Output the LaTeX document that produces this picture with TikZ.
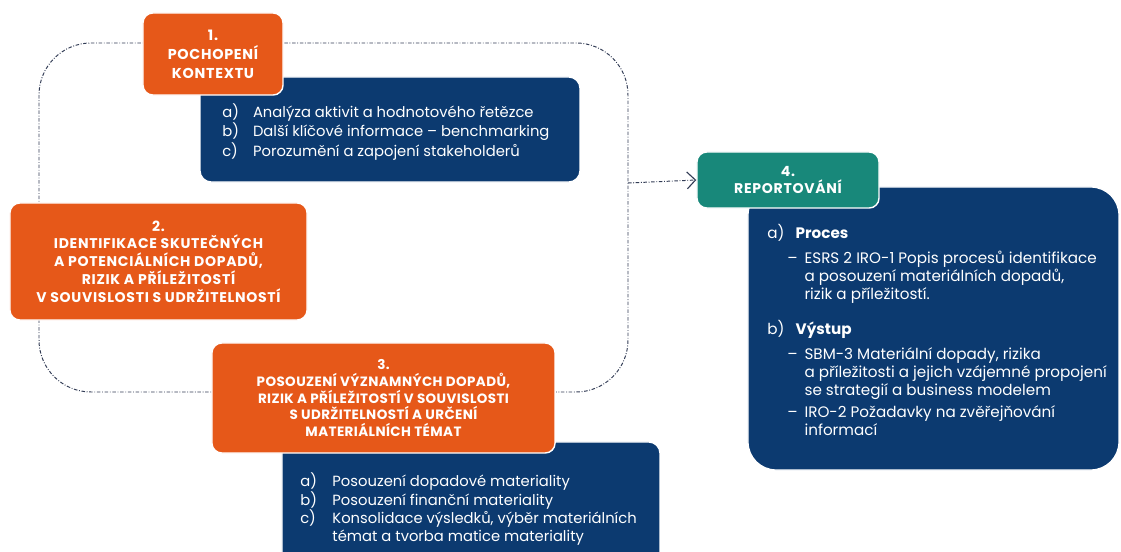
\documentclass[tikz,border=0pt]{standalone}
\usepackage{fontspec}
\setmainfont{Poppins}
\usetikzlibrary{arrows.meta}
\definecolor{oranz}{RGB}{230,88,25}
\definecolor{modra}{RGB}{12,58,112}
\definecolor{tyrkys}{RGB}{24,136,122}
\definecolor{tecky}{RGB}{50,60,85}

\begin{document}
\begin{tikzpicture}
      [x=.025cm,y=-.025cm
      ,hlava/.style={fill=oranz,draw=white,line width=1pt,rounded corners=7pt,text=white,font=\fontsize{10}{12.6}\selectfont\bfseries\addfontfeatures{LetterSpace=5},align=center,inner sep=0pt}
      ,modrybox/.style={fill=modra,draw=white,line width=1pt,rounded corners=8pt}
      ,seznam/.style={text=white,font=\fontsize{10.5}{13.5}\selectfont,anchor=north west,inner sep=0pt}
      ,smycka/.style={color=tecky,line width=.7pt,dash pattern=on 2.5pt off 1.2pt on .6pt off 1.2pt}
      ]
        \useasboundingbox (0,0) rectangle (1121,552);
        \draw[smycka,rounded corners=1.3cm] (39,43) rectangle (628,392);
        \coordinate (smyckaV) at (628,183);
        \node[modrybox,minimum width=9.5cm,minimum height=2.625cm] (kontextBox) at (390,129.5) {};
        \node[hlava,font=\fontsize{10.2}{13.5}\selectfont\bfseries\addfontfeatures{LetterSpace=5},minimum width=3.5cm,minimum height=2.05cm] (kontext) at (213,54) {1.\\POCHOPENÍ\\KONTEXTU};
        \node[hlava,minimum width=7.425cm,minimum height=2.925cm] (identifikace) at (158.5,261.5) {2.\\IDENTIFIKACE SKUTEČNÝCH\\A POTENCIÁLNÍCH DOPADŮ,\\RIZIK A PŘÍLEŽITOSTÍ\\V SOUVISLOSTI S UDRŽITELNOSTÍ};
        \node[modrybox,minimum width=9.45cm,minimum height=3.2cm] (posouzeniBox) at (471,506) {};
        \node[hlava,font=\fontsize{9.6}{11.8}\selectfont\bfseries\addfontfeatures{LetterSpace=3},minimum width=8.575cm,minimum height=2.75cm] (posouzeni) at (383.5,398) {3.\\POSOUZENÍ VÝZNAMNÝCH DOPADŮ,\\RIZIK A PŘÍLEŽITOSTÍ V SOUVISLOSTI\\S UDRŽITELNOSTÍ A URČENÍ\\MATERIÁLNÍCH TÉMAT};
        \node[modrybox,rounded corners=20pt,minimum width=9.275cm,minimum height=7.075cm] (reportBox) at (933.5,328.5) {};
        \node[hlava,fill=tyrkys,minimum width=4.55cm,minimum height=1.4cm] (reportovani) at (788,180) {4.\\REPORTOVÁNÍ};
        \draw[smycka,-{Straight Barb[length=6pt,width=12pt,line width=.8pt]}] (smyckaV) -- (reportovani.west);
        \node[seznam] (kontextTxt) at (222,103) {\begin{tabular}{@{}l@{\hspace{10pt}}l@{}}
          a) & Analýza aktivit a hodnotového řetězce\\
          b) & Další klíčové informace – benchmarking\\
          c) & Porozumění a zapojení stakeholderů
        \end{tabular}};
        \node[seznam,font=\fontsize{10.5}{12.2}\selectfont] (posouzeniTxt) at (300,472) {\begin{tabular}{@{}l@{\hspace{11pt}}l@{}}
          a) & Posouzení dopadové materiality\\
          b) & Posouzení finanční materiality\\
          c) & Konsolidace výsledků, výběr materiálních\\
             & témat a tvorba matice materiality
        \end{tabular}};
        \node[seznam,font=\fontsize{10.8}{12.8}\selectfont] (reportTxt) at (767,224) {\begin{tabular}{@{}l@{\hspace{2pt}}l@{\hspace{5pt}}l@{}}
          a) & \multicolumn{2}{l@{}}{\textbf{Proces}}\\[5pt]
             & – & ESRS 2 IRO-1 Popis procesů identifikace\\
             &   & a posouzení materiálních dopadů,\\
             &   & rizik a příležitostí.\\[11pt]
          b) & \multicolumn{2}{l@{}}{\textbf{Výstup}}\\[5pt]
             & – & SBM-3 Materiální dopady, rizika\\
             &   & a příležitosti a jejich vzájemné propojení\\
             &   & se strategií a business modelem\\[3pt]
             & – & IRO-2 Požadavky na zvěřejňování\\
             &   & informací
        \end{tabular}};
      \end{tikzpicture}
\end{document}
